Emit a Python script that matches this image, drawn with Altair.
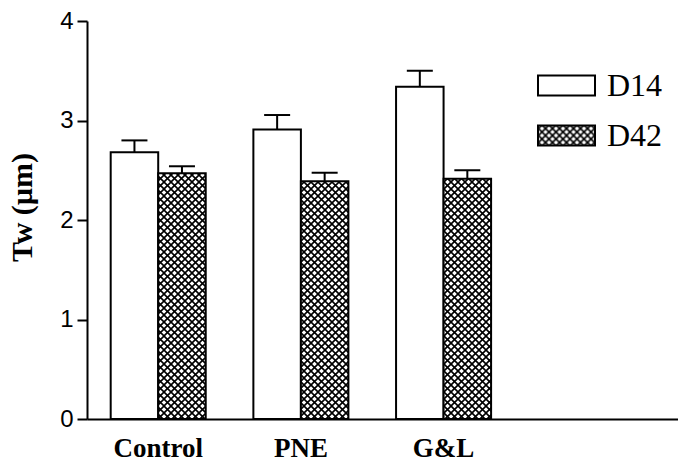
import altair as alt
import pandas as pd
import jinja2

# Wall thickness (Tw) per group at day 14 and day 42, mean and SEM
groups = ["Control", "PNE", "G&L"]
days = ["D14", "D42"]
d14_mean = [2.68, 2.91, 3.34]
d14_sem = [0.12, 0.145, 0.16]
d42_mean = [2.47, 2.39, 2.415]
d42_sem = [0.07, 0.085, 0.085]
y_ticks = [0, 1, 2, 3, 4]

rows = []
for g, m, s in zip(groups, d14_mean, d14_sem):
    rows.append({"group": g, "day": "D14", "mean": m, "upper": m + s})
for g, m, s in zip(groups, d42_mean, d42_sem):
    rows.append({"group": g, "day": "D42", "mean": m, "upper": m + s})
df = pd.DataFrame(rows)

x_enc = alt.X(
    "group:N",
    sort=groups,
    scale=alt.Scale(domain=groups, paddingInner=0.334, paddingOuter=0.738, align=0.1125),
    axis=alt.Axis(
        title=None, ticks=False, labelAngle=0, labelPadding=16,
        labelFont="Liberation Serif", labelFontSize=27, labelFontWeight="bold",
        labelColor="black", domainColor="black", domainWidth=2,
    ),
)
x_off = alt.XOffset("day:N", sort=days, scale=alt.Scale(domain=days, paddingInner=0, paddingOuter=0))

y_scale = alt.Scale(domain=[0, 4], nice=False, zero=True)

bars = alt.Chart(df).mark_bar(stroke="black", strokeWidth=2, opacity=1).encode(
    x=x_enc,
    xOffset=x_off,
    y=alt.Y(
        "mean:Q",
        scale=y_scale,
        axis=alt.Axis(
            title="Tw (µm)", values=y_ticks, format="d", grid=False, tickSize=10, tickWidth=2,
            tickColor="black", domainColor="black", domainWidth=2,
            labelFont="Liberation Sans", labelFontSize=24, labelColor="black", labelPadding=4,
            titleFont="Liberation Serif", titleFontSize=30, titleFontWeight="bold",
            titleColor="black", titleX=-50, titleY=186,
        ),
    ),
    fill=alt.Fill(
        "day:N",
        scale=alt.Scale(domain=days, range=["white", "url(#hatch)"]),
        legend=alt.Legend(
            title=None, orient="none", legendX=450, legendY=35,
            symbolType="M-1,-0.35H1V0.35H-1Z", symbolSize=3249,
            symbolStrokeColor="black", symbolStrokeWidth=2, symbolOpacity=1,
            labelFont="Liberation Serif", labelFontSize=32, labelColor="black",
            labelOffset=11, rowPadding=4, padding=0,
        ),
    ),
)

stems = alt.Chart(df).mark_rule(color="black", strokeWidth=2).encode(
    x=alt.X("group:N", sort=groups), xOffset=x_off,
    y=alt.Y("mean:Q", scale=y_scale), y2="upper:Q",
)

caps = alt.Chart(df).mark_tick(color="black", thickness=2, size=26, opacity=1).encode(
    x=alt.X("group:N", sort=groups), xOffset=x_off,
    y=alt.Y("upper:Q", scale=y_scale),
)

chart = (
    alt.layer(bars, stems, caps)
    .properties(
        width=591, height=398,
        padding={"left": 87, "top": 21, "right": 0, "bottom": 44},
        autosize=alt.AutoSizeParams(type="none"),
        background="white",
    )
    .configure_view(stroke=None)
)

# Page template: standard embed page plus an SVG cross-hatch pattern used as a bar fill
PAGE = jinja2.Template("""<!DOCTYPE html>
<html>
<head>
  <meta charset="utf-8">
  <style>
    body { margin: 0; }
    #{{ output_div }}.vega-embed { width: 100%; display: flex; }
    #{{ output_div }}.vega-embed details,
    #{{ output_div }}.vega-embed details summary { position: relative; }
  </style>
  <script type="text/javascript" src="{{ base_url }}/vega@{{ vega_version }}"></script>
  <script type="text/javascript" src="{{ base_url }}/vega-lite@{{ vegalite_version }}"></script>
  <script type="text/javascript" src="{{ base_url }}/vega-embed@{{ vegaembed_version }}"></script>
</head>
<body>
  <svg width="0" height="0" style="position:absolute">
    <defs>
      <pattern id="hatch" patternUnits="userSpaceOnUse" width="7" height="7">
        <rect width="7" height="7" fill="white"/>
        <path d="M-1,-1L8,8M8,-1L-1,8" stroke="black" stroke-width="1.6"/>
      </pattern>
    </defs>
  </svg>
  <div id="{{ output_div }}"></div>
  <script type="text/javascript">
    (function(vegaEmbed) {
      var spec = {{ spec }};
      var embedOpt = {{ embed_options }};
      function showError(el, error) {
        el.innerHTML = '<div style="color:red;"><p>JavaScript Error: ' + error.message + '</p></div>';
        throw error;
      }
      const el = document.getElementById('{{ output_div }}');
      vegaEmbed("#{{ output_div }}", spec, embedOpt).catch(error => showError(el, error));
    })(vegaEmbed);
  </script>
</body>
</html>
""")

chart.save("out.html", embed_options={"renderer": "svg", "actions": False}, template=PAGE)
